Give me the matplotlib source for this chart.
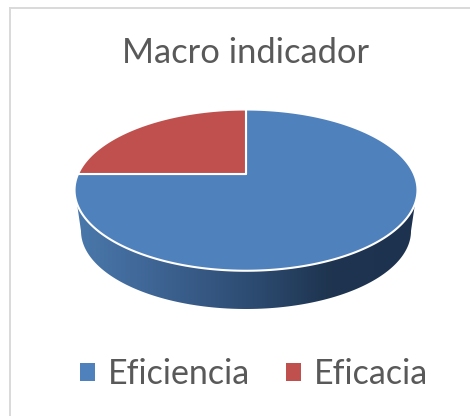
import numpy as np
import matplotlib
matplotlib.use("Agg")
import matplotlib.pyplot as plt
from matplotlib.colors import LinearSegmentedColormap
from matplotlib.patches import Patch, Polygon

# datos del grafico
categorias = ["Eficiencia", "Eficacia"]
valores = [75, 25]
colores = ["#4F81BD", "#C0504D"]
titulo = "Macro indicador"

plt.rcParams["font.family"] = ["Lato", "DejaVu Sans"]

fig = plt.figure(figsize=(4.7, 4.16), dpi=100)
ax = fig.add_axes([0, 0, 1, 1])
ax.set_xlim(0, 470)
ax.set_ylim(416, 0)
ax.axis("off")

# borde del area del grafico
ax.plot([10, 10], [416, 8], color="#D9D9D9", lw=1.4)
ax.plot([10, 470], [8, 8], color="#D9D9D9", lw=1.4)

# perspectiva del disco: vertice en (246,174)
def proyectar(theta):
    u = np.sin(theta)
    v = np.cos(theta)
    w = 1 + 0.2 * v
    return 246 + 168 * u / w, 174 - 77.4 * v / w

# lateral con degradado
t = np.linspace(0, np.pi, 200)
lado_x = np.concatenate([246 + 171 * np.cos(t), 246 + 165 * np.cos(t)[::-1]])
lado_y = np.concatenate([190 - 81 * np.sin(t), 231 + 78 * np.sin(t)[::-1]])
lado = Polygon(np.column_stack([lado_x, lado_y]), closed=True, fc="none", ec="none")
ax.add_patch(lado)
cmap = LinearSegmentedColormap.from_list(
    "lado", [(0, "#4A78AB"), (0.18, "#41699A"), (0.5, "#2E4D74"), (0.75, "#1E344F"), (1, "#1D3250")]
)
grad = ax.imshow(
    np.linspace(0, 1, 256).reshape(1, -1),
    extent=[75, 417, 320, 170],
    cmap=cmap,
    aspect="auto",
    zorder=1,
)
grad.set_clip_path(lado)
ax.set_xlim(0, 470)
ax.set_ylim(416, 0)

# sectores de la cara superior
acum = 0
total = sum(valores)
for valor, color in zip(valores, colores):
    a0 = 2 * np.pi * acum / total
    a1 = 2 * np.pi * (acum + valor) / total
    th = np.linspace(a0, a1, 300)
    px, py = proyectar(th)
    puntos = np.column_stack([np.r_[246, px], np.r_[174, py]])
    ax.add_patch(Polygon(puntos, closed=True, fc=color, ec="white", lw=1.5, zorder=2, joinstyle="round"))
    acum += valor

ax.text(246, 53, titulo, ha="center", va="center", fontsize=24.8, color="#595959")

handles = [Patch(fc=c, ec="none") for c in colores]
ax.legend(
    handles,
    categorias,
    loc="center",
    bbox_to_anchor=(254 / 470, 1 - 374 / 416),
    ncol=2,
    frameon=False,
    fontsize=24.5,
    labelcolor="#595959",
    handlelength=0.44,
    handleheight=0.44,
    handletextpad=0.365,
    columnspacing=1.08,
    borderpad=0,
)

plt.savefig("out.png", dpi=100)
